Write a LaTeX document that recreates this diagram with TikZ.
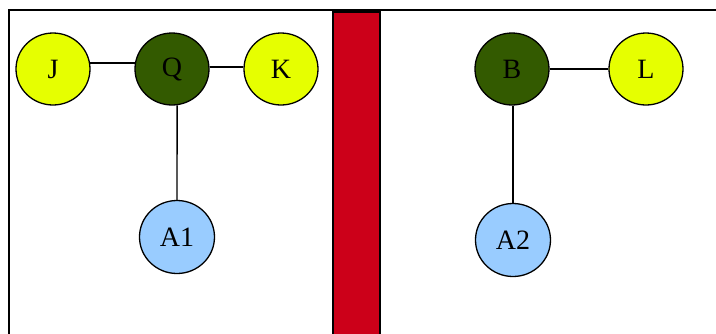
\documentclass[tikz,border=0pt]{standalone}
\usepackage{fontspec}
\setmainfont{Liberation Serif}
\definecolor{yel}{HTML}{E6FF00}
\definecolor{dgreen}{HTML}{335A00}
\definecolor{lblue}{HTML}{99CCFF}
\definecolor{redbar}{HTML}{CC0019}
\usetikzlibrary{shapes.geometric}
\begin{document}
\begin{tikzpicture}[x=1pt,y=-1pt,
  nd/.style={ellipse,draw=black,line width=1.3pt,minimum width=74pt,minimum height=72pt,inner sep=0pt,font=\fontsize{28}{28}\selectfont},
  ynode/.style={nd,fill=yel},
  gnode/.style={nd,fill=dgreen},
  bnode/.style={nd,fill=lblue,minimum width=75pt,minimum height=73pt},
  edge/.style={line width=1.4pt}]
\useasboundingbox (0,0) rectangle (716,333);
\fill[white] (0,0) rectangle (716,333);
% frames
\draw[line width=1.5pt] (9,340) -- (9,10) -- (720,10);
\draw[line width=1.2pt,fill=redbar] (333,340) -- (333,12) -- (380,12) -- (380,340);
% nodes
\node[ynode] (J) at (53,69) {J};
\node[gnode] (Q) at (172,69) {Q};
\node[ynode] (K) at (281,69) {K};
\node[bnode] (A1) at (177,237) {A1};
\node[gnode] (B) at (512,69) {B};
\node[ynode] (L) at (646,69) {L};
\node[bnode] (A2) at (513,240) {A2};
% edges
\draw[edge] (J.9) -- (Q.171);
\draw[edge] (Q.3) -- (K.177);
\draw[edge] (Q.-82) -- (A1.north);
\draw[edge] (A2.north) -- (A2.north |- B.south);
\draw[edge] (B.east) -- (L.west);
\end{tikzpicture}
\end{document}
